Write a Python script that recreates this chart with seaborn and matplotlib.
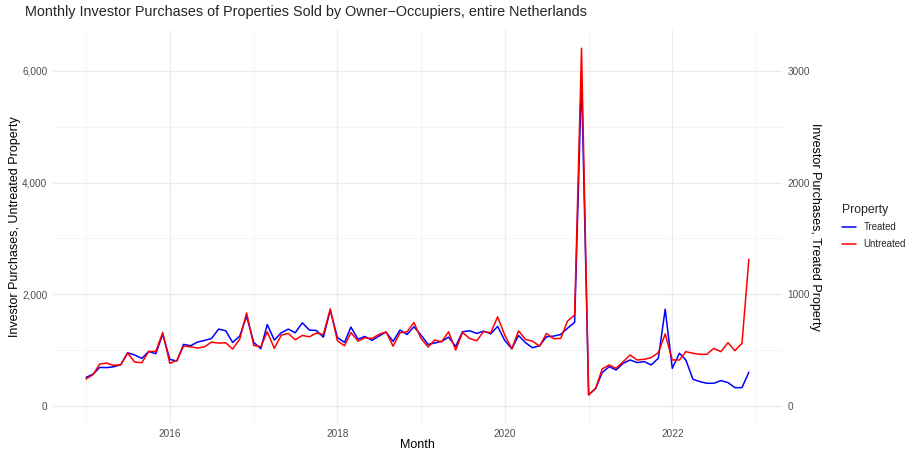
import numpy as np
import pandas as pd
import matplotlib
matplotlib.use("Agg")
import matplotlib.pyplot as plt
import matplotlib.dates as mdates
import matplotlib.ticker as mticker
import seaborn as sns

# ---- data ----
months = pd.date_range("2015-01-01", periods=96, freq="MS")

untreated = [
    482, 565, 750, 768, 726, 738, 946, 786, 774, 976, 976, 1315,
    762, 818, 1071, 1060, 1036, 1060, 1143, 1125, 1131, 1018, 1196, 1667,
    1083, 1060, 1327, 1030, 1268, 1298, 1185, 1262, 1238, 1304, 1280, 1738,
    1167, 1077, 1315, 1161, 1220, 1208, 1280, 1327, 1071, 1310, 1327, 1494,
    1208, 1054, 1179, 1149, 1327, 1000, 1315, 1208, 1167, 1333, 1310, 1595,
    1268, 1024, 1345, 1190, 1161, 1071, 1298, 1205, 1208, 1520, 1629, 6403,
    197, 317, 662, 734, 674, 793, 913, 823, 835, 865, 954, 1289,
    823, 823, 972, 943, 925, 925, 1032, 972, 1133, 990, 1122, 2626,
]

treated = [
    256, 286, 345, 343, 351, 369, 476, 456, 426, 488, 468, 643,
    417, 402, 551, 539, 572, 587, 604, 688, 673, 569, 625, 804,
    569, 512, 729, 590, 655, 688, 655, 744, 679, 676, 616, 857,
    613, 569, 706, 598, 622, 587, 625, 661, 578, 679, 640, 709,
    634, 551, 563, 578, 616, 533, 664, 673, 649, 670, 646, 712,
    587, 512, 631, 566, 521, 539, 619, 625, 640, 696, 749, 2950,
    99, 158, 298, 352, 322, 382, 412, 388, 397, 367, 427, 866,
    337, 472, 412, 239, 218, 203, 203, 227, 209, 164, 164, 302,
]

sec_scale = 2  # right axis = left axis / 2

left_ticks = [0, 2000, 4000, 6000]
right_ticks = [0, 1000, 2000, 3000]
year_major = ["2016", "2018", "2020", "2022"]
year_minor = ["2015", "2017", "2019", "2021", "2023"]

df = pd.concat([
    pd.DataFrame({"Month": months, "value": np.array(treated) * sec_scale, "Property": "Treated"}),
    pd.DataFrame({"Month": months, "value": untreated, "Property": "Untreated"}),
], ignore_index=True)

# ---- style ----
sns.set_style("white")
plt.rcParams["font.family"] = ["Liberation Sans", "DejaVu Sans"]

W, H = 907, 451
fig = plt.figure(figsize=(W / 100, H / 100), dpi=100)
pl, pr, pt, pb = 53, 782, 30, 423
ax = fig.add_axes([pl / W, 1 - pb / H, (pr - pl) / W, (pb - pt) / H])

sns.lineplot(data=df, x="Month", y="value", hue="Property",
             palette={"Treated": "blue", "Untreated": "red"},
             hue_order=["Treated", "Untreated"], linewidth=1.1, ax=ax)

# limits
d0 = mdates.date2num(months[0]); d1 = mdates.date2num(months[-1])
span = d1 - d0
ax.set_xlim(d0 - 0.05 * span, d1 + 0.05 * span)
ax.set_ylim(-305, 6730)

# ticks & grid
ax.xaxis.set_major_locator(mticker.FixedLocator([mdates.date2num(pd.Timestamp(y + "-01-01")) for y in year_major]))
ax.xaxis.set_major_formatter(mticker.FixedFormatter(year_major))
ax.xaxis.set_minor_locator(mticker.FixedLocator([mdates.date2num(pd.Timestamp(y + "-01-01")) for y in year_minor]))
ax.yaxis.set_major_locator(mticker.FixedLocator(left_ticks))
ax.yaxis.set_major_formatter(mticker.FuncFormatter(lambda v, p: f"{int(v):,}"))
ax.yaxis.set_minor_locator(mticker.FixedLocator([1000, 3000, 5000]))

ax.grid(which="major", color="#EBEBEB", linewidth=0.9)
ax.grid(which="minor", color="#F2F2F2", linewidth=0.6)
ax.tick_params(which="both", length=0, labelsize=7.2, colors="#4D4D4D", pad=4)
for s in ax.spines.values():
    s.set_visible(False)

ax.set_xlabel("Month", fontsize=9, color="black", labelpad=0)
ax.set_ylabel("Investor Purchases, Untreated Property", fontsize=9, color="black", labelpad=1)

sec = ax.secondary_yaxis("right", functions=(lambda v: v / sec_scale, lambda v: v * sec_scale))
sec.yaxis.set_major_locator(mticker.FixedLocator(right_ticks))
sec.yaxis.set_major_formatter(mticker.FuncFormatter(lambda v, p: f"{int(v)}"))
sec.tick_params(length=0, labelsize=7.2, colors="#4D4D4D", pad=4)
for s in sec.spines.values():
    s.set_visible(False)
sec.set_ylabel("Investor Purchases, Treated Property", fontsize=9, rotation=-90,
               labelpad=8, color="black")

# legend
handles, labels = ax.get_legend_handles_labels()
ax.legend(handles, labels, title="Property", frameon=False,
          loc="upper left", bbox_to_anchor=(833 / W, 1 - 195 / H),
          bbox_transform=fig.transFigure, fontsize=6.9, title_fontsize=8.8,
          handlelength=1.5, handletextpad=0.8, labelspacing=0.7,
          alignment="left")

fig.text(25 / W, 1 - 12 / H, "Monthly Investor Purchases of Properties Sold by Owner\u2212Occupiers, entire Netherlands",
         fontsize=10.4, va="center", ha="left")

fig.savefig("out.png", dpi=100)
